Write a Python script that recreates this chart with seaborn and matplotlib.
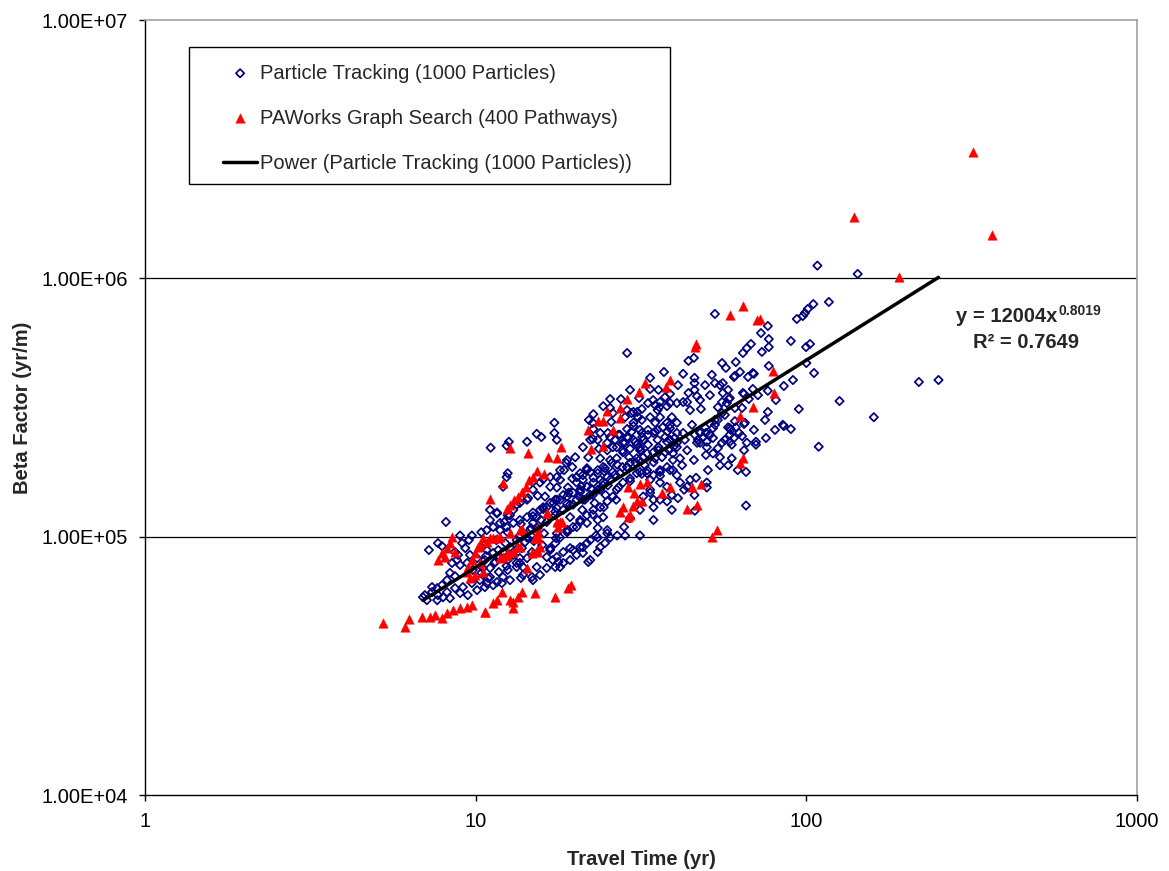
import numpy as np
import pandas as pd
import matplotlib
matplotlib.use("Agg")
import matplotlib.pyplot as plt
from matplotlib.patches import Rectangle
from matplotlib.ticker import NullLocator
import seaborn as sns

# Particle tracking: travel time (yr) and beta factor (thousands of yr/m)
particle_time = [
    108, 143, 117, 105, 101, 99.0, 97.6, 93.6, 76.5, 72.9, 77.0, 77.0, 68.0, 66.1, 64.3, 73.4,
    89.8, 102.6, 99.8, 61.2, 55.6, 60.4, 68.9, 66.6, 77.0, 100, 105.5, 91.1, 85.5, 76.5, 80.9,
    68.9, 64.3, 58.0, 55.9, 55.9, 58.3, 55.6, 67.0, 63.9, 76.5, 94.9, 126, 160, 219, 251,
    85.5, 89.8, 64.8, 60.8, 58.7, 61.2, 62.6, 59.5, 66.1, 70.4, 109, 56.7, 52.9, 45.7, 44.0,
    28.7, 37.1, 33.7, 40.9, 42.4, 45.9, 45.9, 45.9, 44.0, 46.7, 52.9, 54.8, 60.8, 69.4, 64.8,
    58.7, 57.5, 54.0, 48.0, 43.6, 42.4, 40.6, 38.7, 37.4, 36.1, 37.9, 35.9, 34.9, 34.4, 35.5,
    33.2, 31.8, 30.8, 29.6, 31.2, 29.3, 33.7, 35.7, 25.5, 24.3, 26.0, 28.3, 30.0, 31.8, 33.7,
    34.9, 37.9, 40.6, 38.0, 37.4, 34.5, 31.9, 31.4, 29.6, 28.7, 27.0, 25.5, 25.0, 26.0, 27.9,
    30.4, 31.4, 33.2, 35.7, 40.6, 45.1, 47.7, 48.7, 47.0, 49.7, 51.1, 52.9, 54.0, 55.6, 59.1,
    58.7, 60.4, 65.2, 55.6, 52.2, 50.0, 47.7, 84.9,
    22.7, 22.6, 25.7, 38.7, 39.2, 36.1, 31.0, 30.0, 28.7, 27.3, 26.4, 25.0, 26.7, 28.3, 30.0,
    31.8, 33.2, 35.5, 38.7, 40.6, 39.5, 36.6, 34.5, 33.0, 31.4, 30.7, 29.3, 27.8, 26.0, 25.0,
    23.8, 22.7, 21.7, 20.7, 19.7, 18.9, 18.0, 17.2, 16.4, 15.65, 14.9, 14.3, 25.5, 24.3, 23.4,
    22.2, 21.1, 20.2, 19.6, 18.9, 20.0, 23.8, 25.1, 23.8, 23.4, 22.2, 21.1, 23.6, 28.9, 27.8,
    35.7, 38.4, 40.6, 38.7, 35.5, 31.4, 33.0, 36.1, 39.5, 40.6, 33.7, 32.1, 11.1, 12.4, 12.6,
    14.3, 15.3, 15.8, 17.3, 17.3, 17.6, 18.8, 12.4, 12.1, 11.6, 12.5, 13.3, 14.3, 15.65, 16.8,
    17.6, 18.0, 21.7, 21.9, 22.6, 22.7, 22.0, 25.5, 28.7, 30.0, 27.5,
    16.0, 14.9, 16.8, 15.4, 16.2, 17.4, 18.4, 19.0, 19.6, 20.7, 21.7, 21.1, 20.2, 20.7, 23.4,
    24.6, 25.8, 26.7, 27.9, 29.3, 30.7, 32.1, 33.2, 34.9, 36.8, 38.7, 52.2, 58.0, 65.7, 62.0,
    58.0, 54.8, 52.2, 50.0, 46.7, 43.6, 41.5, 39.5, 37.9, 36.1, 34.5, 33.0, 30.7, 29.3, 27.9,
    26.7, 26.0, 25.0, 23.8, 22.7, 21.7, 20.7, 19.7, 18.9, 18.0, 17.4, 16.8, 16.4, 17.1, 17.8,
    18.0, 19.3, 20.2, 20.7, 21.9, 23.4, 24.6, 25.5, 25.0, 23.4, 23.1, 22.2, 21.1, 19.3, 18.4,
    26.8, 28.3, 31.4, 28.1, 29.3, 31.4, 34.5, 34.5, 34.5, 33.7, 37.9, 36.1, 41.5, 44.5, 43.6,
    50.0, 45.9, 40.9, 37.9, 39.2, 46.0, 50.0, 65.7, 15.65, 14.8, 13.7, 12.7, 12.0, 11.3, 10.8,
    13.9, 13.3, 12.5, 11.85, 11.3, 10.8, 10.4, 12.7, 13.3, 14.3, 14.6, 14.9, 15.3, 16.0, 16.8,
    17.6, 18.4, 19.3, 20.2, 21.4, 22.2, 23.4, 24.3, 25.5, 27.3, 28.7, 30.4, 32.1, 34.4, 35.7,
    37.9, 40.0, 42.4, 13.6, 13.0, 12.4, 11.85, 11.3, 10.8, 10.4, 11.05, 11.6, 11.05, 13.0, 13.6,
    14.4, 14.9, 12.7, 17.6, 18.0, 18.5, 12.5,
    8.13, 7.22, 7.69, 7.91, 8.97, 9.54, 9.74, 11.85, 12.2, 9.10, 9.30, 8.66, 8.84, 8.48, 8.97,
    9.42, 8.78, 8.36, 8.66, 8.19, 7.91, 7.65, 7.38, 7.02, 6.93, 7.12, 7.38, 7.69, 8.19, 8.66,
    9.15, 9.74, 10.3, 10.66, 10.1, 9.47, 8.97, 8.36, 7.97, 7.65, 11.6, 12.1, 12.5, 13.3, 13.9,
    14.9, 15.3, 14.3, 13.6, 11.05, 11.4, 10.66, 10.1, 9.61, 9.80, 10.4, 11.05, 11.6, 12.1, 13.0,
    13.4, 14.1, 14.8, 15.4, 16.4, 17.4, 19.7, 21.1, 22.6, 23.8, 25.1, 17.6, 18.9, 20.2, 21.7,
    23.4, 24.3, 19.7, 21.1, 22.2, 23.8, 25.0, 16.8, 17.6, 18.4, 17.4, 16.4, 21.7, 23.4,
    10.6, 10.75, 10.5, 10.9, 11.55, 11.7, 11.45, 11.75, 12.5, 12.3, 12.6, 12.4,
    13.7, 13.5, 13.8, 13.6, 14.9, 14.7, 15.0, 14.8, 16.0, 15.75, 16.1, 15.9,
    17.6, 17.4, 17.8, 17.5, 19.1, 18.9, 19.3, 19.0, 20.85, 20.55, 21.0, 20.7,
    22.7, 22.4, 22.9, 22.6, 24.5, 24.3, 24.7, 24.4, 26.8, 26.4, 27.0, 26.6,
    29.1, 28.7, 29.3, 31.6, 31.2, 31.8,
    32.5, 34.9, 37.4, 40.0, 42.9, 46.0, 49.4, 52.9, 56.7, 60.8,
    33.7, 36.1, 38.7, 42.1, 45.7, 49.7, 54.0, 58.7, 63.9, 69.4,
    36.1, 39.2, 42.7, 46.4, 50.4, 54.8, 59.5, 64.8, 70.4, 75.5,
    44.5, 47.7, 51.1, 49.4, 51.8, 57.1, 63.0, 71.4, 75.0, 80.4,
]
particle_beta_k = [
    1120, 1040, 810, 795, 761, 734, 715, 696, 654, 614, 582, 542, 557, 537, 514, 519,
    572, 557, 542, 474, 470, 415, 430, 415, 458, 470, 430, 404, 383, 367, 338,
    373, 360, 370, 393, 360, 341, 332, 341, 315, 304, 312, 335, 290, 397, 404,
    268, 261, 273, 280, 263, 265, 252, 227, 231, 233, 223, 237, 728, 492, 479,
    514, 434, 412, 386, 427, 412, 393, 370, 360, 350, 393, 386, 419, 427, 357,
    344, 329, 317, 312, 332, 332, 329, 357, 347, 332, 320, 317, 323, 338, 309,
    329, 312, 304, 301, 344, 370, 373, 370, 341, 320, 301, 290, 276, 283, 290,
    276, 276, 276, 255, 243, 252, 243, 259, 255, 243, 248, 243, 231, 222, 231,
    233, 222, 227, 222, 222, 271, 252, 243, 237, 252, 248, 271, 283, 301, 259,
    248, 241, 276, 231, 241, 233, 231, 271,
    298, 276, 278, 329, 290, 290, 290, 268, 261, 248, 237, 216, 222, 231, 237,
    252, 259, 237, 237, 231, 210, 203, 194, 210, 216, 201, 193, 186, 178, 170,
    166, 162, 156, 152, 148, 143, 139, 135, 130, 127, 124, 119, 198, 186, 181,
    178, 173, 170, 186, 198, 203, 201, 252, 252, 237, 237, 222, 219, 241, 216,
    216, 216, 252, 263, 259, 178, 176, 178, 181, 173, 152, 143, 221, 225, 233,
    233, 250, 243, 276, 252, 237, 193, 170, 156, 123, 121, 133, 139, 162, 170,
    170, 181, 184, 203, 239, 261, 283, 315, 309, 304, 341,
    167, 163, 156, 144, 143, 139, 145, 155, 168, 176, 181, 166, 162, 149, 176,
    184, 193, 201, 212, 219, 227, 237, 248, 255, 265, 271, 263, 265, 178, 181,
    189, 203, 210, 222, 231, 216, 201, 198, 186, 181, 173, 181, 176, 168, 162,
    152, 143, 137, 130, 127, 121, 116, 109, 104, 99.2, 94.4, 90.3, 83.4, 81.2, 79.8,
    76.3, 81.2, 85.0, 91.1, 79.8, 87.2, 94.4, 99.2, 106, 108, 101, 97.0, 91.1, 90.3, 87.2,
    101, 101, 101, 109, 118, 127, 116, 130, 139, 148, 156, 162, 162, 166, 156,
    155, 145, 141, 137, 127, 126, 162, 132, 71.1, 69.8, 69.2, 67.9, 66.1, 64.9, 66.1,
    76.3, 79.1, 81.2, 83.4, 86.5, 88.8, 91.1, 91.1, 97.0, 99.2, 106, 113, 119, 130, 135,
    129, 127, 133, 139, 139, 145, 152, 158, 166, 176, 186, 194, 203, 212, 222,
    233, 241, 252, 116, 113, 109, 106, 109, 106, 104, 116, 124, 127, 127, 135,
    141, 152, 121, 155, 166, 181, 176,
    114, 88.8, 94.4, 91.9, 101, 97.0, 101, 113, 114, 94.4, 90.3, 87.2, 85.0, 79.1, 77.7,
    79.1, 81.2, 72.4, 70.3, 67.9, 64.9, 63.2, 61.0, 59.4, 58.3, 56.8, 63.8, 59.4, 61.0, 63.2,
    63.8, 66.1, 67.9, 63.8, 62.1, 59.4, 60.5, 57.8, 58.3, 56.8, 66.7, 69.8, 74.3, 76.3, 71.1,
    67.9, 76.3, 82.6, 79.1, 75.6, 79.1, 81.2, 82.6, 85.0, 74.3, 72.4, 69.8, 83.4, 87.2, 85.0,
    90.3, 95.3, 100, 108, 114, 121, 133, 139, 145, 152, 158, 103, 106, 109, 113,
    116, 119, 88.8, 86.5, 81.2, 91.1, 103, 88.8, 83.4, 79.1, 76.3, 75.6, 94.4, 99.2,
    92.8, 84.2, 75.6, 69.2, 97.0, 88.8, 79.8, 73.0, 104, 94.4, 84.2, 77.0,
    112, 100, 90.3, 82.6, 120, 108, 96.2, 87.2, 128, 116, 103, 92.8,
    139, 125, 111, 98.6, 148, 134, 119, 106, 157, 143, 127, 114,
    169, 153, 135, 122, 179, 163, 145, 130, 190, 174, 155, 139,
    203, 186, 164, 216, 198, 175,
    189, 201, 212, 225, 237, 248, 265, 283, 296, 315,
    166, 172, 181, 189, 198, 207, 220, 233, 245, 259,
    139, 145, 152, 169, 181, 189, 201, 216, 227, 241,
    309, 338, 353, 386, 423, 450, 434, 353, 283, 259,
]

# PAWorks graph search pathways: travel time (yr) and beta factor (thousands of yr/m)
pathway_time = [
    139, 319, 364, 190, 58.7, 64.3, 70.9, 72.4, 79.2, 79.8, 68.9, 63.0, 46.4, 45.9, 38.7,
    37.6, 32.5, 31.2, 28.7, 27.3, 25.0, 27.3, 26.0, 24.3, 23.5, 24.3, 21.9, 22.4, 18.1, 14.4,
    12.7, 16.5, 17.6, 15.3, 16.1, 14.9, 14.5, 14.2, 13.8, 13.4, 13.1, 12.7, 12.4, 12.1, 11.05,
    16.4, 28.9, 31.4, 33.0, 38.7, 36.6, 30.1, 30.7, 30.0, 31.8, 27.9, 27.3, 29.3, 28.9, 45.1,
    48.0, 43.6, 46.7, 63.0, 64.3, 53.6, 51.8, 13.8, 12.7, 11.85, 11.3, 10.8, 10.3, 15.4, 15.1,
    15.65, 15.3, 14.8, 18.0, 17.8, 13.6, 13.0, 12.4, 11.85, 14.3, 19.4, 19.0, 17.4, 15.1, 13.8,
    13.4, 13.0, 12.7, 12.0, 11.6, 11.3, 13.0, 10.7, 5.25, 6.11, 6.28, 6.89, 7.27, 7.53, 7.91,
    8.19, 8.54, 8.97, 9.42, 9.74, 10.66, 8.48, 8.36, 8.19, 7.91, 7.69, 8.07, 8.66, 10.5, 11.05,
    11.6, 10.15, 9.95, 9.74, 9.47, 9.42, 9.61, 9.95, 10.5, 10.3, 12.5, 12.1, 13.3, 13.6, 15.3,
    16.4, 17.6, 18.25, 15.4, 15.3,
]
pathway_beta_k = [
    1730, 3080, 1470, 1010, 721, 781, 690, 696, 438, 360, 317, 293, 557, 542, 404,
    379, 393, 363, 341, 315, 306, 288, 259, 280, 280, 225, 259, 219, 222, 210,
    221, 203, 201, 179, 175, 170, 166, 156, 149, 143, 139, 133, 128, 162, 140,
    123, 156, 160, 163, 155, 148, 147, 138, 132, 137, 130, 125, 121, 119, 155,
    160, 128, 133, 193, 201, 106, 99.5, 107, 103, 99.5, 98.6, 95.3, 92.8, 103, 98.6,
    91.1, 88.8, 86.5, 114, 109, 91.1, 87.2, 85.0, 82.6, 75.6, 64.9, 63.2, 58.3, 60.5, 61.0,
    58.3, 55.8, 56.8, 61.0, 56.8, 55.3, 52.9, 51.1, 46.4, 44.7, 48.0, 48.8, 48.8, 49.8, 48.3,
    50.6, 52.0, 52.9, 53.4, 54.3, 51.1, 99.5, 94.4, 90.3, 86.5, 81.2, 83.4, 87.2, 98.6, 99.2,
    98.6, 91.1, 86.5, 81.2, 76.3, 73.0, 69.2, 70.9, 73.0, 79.1, 87.2, 83.4, 91.1, 106, 108,
    124, 114, 114, 98.6, 87.2,
]

# Power-law trend fitted to the particle tracking results
fit_coef = 12004
fit_exp = 0.8019
fit_r2 = 0.7649

x_ticks = [1, 10, 100, 1000]
x_tick_labels = ["1", "10", "100", "1000"]
y_ticks = [1e4, 1e5, 1e6, 1e7]
y_tick_labels = ["1.00E+04", "1.00E+05", "1.00E+06", "1.00E+07"]

label_particles = "Particle Tracking (1000 Particles)"
label_pathways = "PAWorks Graph Search (400 Pathways)"
label_trend = "Power (Particle Tracking (1000 Particles))"

particles = pd.DataFrame({"time": particle_time,
                          "beta": np.array(particle_beta_k) * 1e3})
pathways = pd.DataFrame({"time": pathway_time,
                         "beta": np.array(pathway_beta_k) * 1e3})

trend_x = np.geomspace(particles["time"].min(), particles["time"].max(), 60)
trend = pd.DataFrame({"time": trend_x, "beta": fit_coef * trend_x ** fit_exp})

sns.set_style("white")
plt.rcParams["font.family"] = ["Liberation Sans", "DejaVu Sans"]
FS = 14.5

fig = plt.figure(figsize=(11.69, 8.71), dpi=100)
ax = fig.add_axes([145 / 1169, 76 / 871, 992 / 1169, 775 / 871])
ax.set_xscale("log")
ax.set_yscale("log")

navy = "#000080"
sns.scatterplot(data=particles, x="time", y="beta", marker="D", s=18,
                color=navy, linewidth=1.25, ax=ax, label=label_particles, zorder=3)
pc = ax.collections[-1]
pc.set_facecolor("none")
pc.set_edgecolor(navy)

sns.scatterplot(data=pathways, x="time", y="beta", marker="^", s=46,
                color="#ff0000", edgecolor="#ff0000", linewidth=0.3, ax=ax,
                label=label_pathways, zorder=4)

sns.lineplot(data=trend, x="time", y="beta", color="black", linewidth=2.5,
             ax=ax, label=label_trend, zorder=5)

ax.set_xlim(1, 1000)
ax.set_ylim(1e4, 1e7)

for yv in (1e5, 1e6):
    ax.axhline(yv, color="black", linewidth=0.9, zorder=1)

for side in ("top", "right"):
    ax.spines[side].set_color("#a0a0a0")
    ax.spines[side].set_linewidth(1.2)
for side in ("left", "bottom"):
    ax.spines[side].set_color("black")
    ax.spines[side].set_linewidth(1.0)

ax.set_xticks(x_ticks, x_tick_labels)
ax.set_yticks(y_ticks, y_tick_labels)
ax.xaxis.set_minor_locator(NullLocator())
ax.yaxis.set_minor_locator(NullLocator())
ax.tick_params(axis="both", which="major", direction="out", length=4, width=1,
               color="black", labelsize=FS, labelcolor="black", pad=8,
               bottom=True, left=True, top=False, right=False)

ax.set_xlabel("Travel Time (yr)", fontsize=FS, fontweight="bold", labelpad=14)
ax.set_ylabel("Beta Factor (yr/m)", fontsize=FS, fontweight="bold", labelpad=7)

# Trendline equation and goodness of fit
eq = ax.text(0.8175, 0.6103, f"y = {fit_coef}x", transform=ax.transAxes,
             fontsize=FS, fontweight="bold", ha="left", va="baseline", zorder=6)
ax.annotate(f"{fit_exp}", xy=(1.0, 0.0), xycoords=eq, xytext=(0.5, 8),
            textcoords="offset points", fontsize=10, fontweight="bold",
            ha="left", va="baseline")
ax.text(0.8347, 0.5768, f"R\u00b2 = {fit_r2}", transform=ax.transAxes,
        fontsize=FS, fontweight="bold", ha="left", va="baseline", zorder=6)

# Legend: boxed panel in the upper left
handles, labels = ax.get_legend_handles_labels()
old = ax.get_legend()
if old is not None:
    old.remove()
box = Rectangle((0.04435, 0.7884), 0.4849, 0.1768, transform=ax.transAxes,
                facecolor="white", edgecolor="black", linewidth=1.0, zorder=6)
ax.add_patch(box)
leg = ax.legend(handles, labels, loc="upper left", bbox_to_anchor=(0.0786, 0.9438),
                borderaxespad=0, borderpad=0, frameon=False, fontsize=FS,
                handlelength=1.7, handletextpad=0.15, labelspacing=1.3,
                scatterpoints=1)
leg.set_zorder(7)

fig.savefig("out.png", dpi=100)
